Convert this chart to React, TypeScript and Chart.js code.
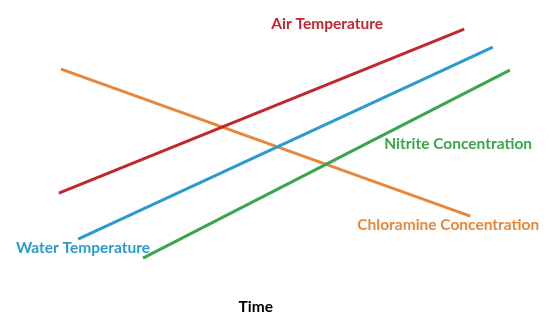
import React, { useEffect, useRef } from "react";
import { Chart, registerables } from "chart.js";

Chart.register(...registerables);

// Time axis (arbitrary units 0-100) and level axis (arbitrary units 0-100)
const seriesNames = [
  "Air Temperature",
  "Water Temperature",
  "Nitrite Concentration",
  "Chloramine Concentration",
];
const seriesColors = ["#C1272D", "#2B9BCF", "#3AA64C", "#E8873A"];

const airTime = [10.7, 84.4];
const airLevel = [40.2, 91.0];
const waterTime = [14.2, 89.6];
const waterLevel = [26.0, 85.4];
const nitriteTime = [26.0, 92.7];
const nitriteLevel = [20.1, 78.3];
const chloramineTime = [11.1, 85.5];
const chloramineLevel = [78.6, 33.1];

// label anchors (in data units)
const labelTime = [59.5, 15.1, 83.3, 81.5];
const labelLevel = [92.6, 23.2, 55.4, 30.3];
const axisTitle = "Time";
const axisTitleTime = 46.5;
const axisTitleLevel = 5.0;

const FONT = "bold 15.5px Lato, 'Open Sans', sans-serif";

export default function App() {
  const ref = useRef<HTMLCanvasElement | null>(null);

  useEffect(() => {
    document.body.style.margin = "0";
    const canvas = ref.current;
    if (!canvas) return;

    const times = [airTime, waterTime, nitriteTime, chloramineTime];
    const levels = [airLevel, waterLevel, nitriteLevel, chloramineLevel];

    const labelPlugin = {
      id: "lineLabels",
      afterDatasetsDraw(chart: any) {
        const ctx = chart.ctx;
        const xs = chart.scales.x;
        const ys = chart.scales.y;
        ctx.save();
        ctx.font = FONT;
        ctx.textAlign = "center";
        ctx.textBaseline = "middle";
        seriesNames.forEach((name, i) => {
          ctx.fillStyle = seriesColors[i];
          ctx.fillText(
            name,
            xs.getPixelForValue(labelTime[i]),
            ys.getPixelForValue(labelLevel[i])
          );
        });
        ctx.fillStyle = "#000000";
        ctx.fillText(
          axisTitle,
          xs.getPixelForValue(axisTitleTime),
          ys.getPixelForValue(axisTitleLevel)
        );
        ctx.restore();
      },
    };

    const chart = new Chart(canvas, {
      type: "line",
      data: {
        datasets: seriesNames.map((name, i) => ({
          label: name,
          data: times[i].map((t, k) => ({ x: t, y: levels[i][k] })),
          borderColor: seriesColors[i],
          borderWidth: 3,
          pointRadius: 0,
          tension: 0,
          borderCapStyle: "butt" as const,
        })),
      },
      options: {
        responsive: false,
        animation: false,
        layout: { padding: 0 },
        plugins: {
          legend: { display: false },
          tooltip: { enabled: false },
          title: { display: false },
        },
        scales: {
          x: { type: "linear", min: 0, max: 100, display: false },
          y: { type: "linear", min: 0, max: 100, display: false },
        },
      },
      plugins: [labelPlugin],
    });
    return () => chart.destroy();
  }, []);

  return (
    <div style={{ position: "absolute", left: 0, top: 0, width: 550, height: 323, background: "#fff" }}>
      <canvas ref={ref} width={550} height={323} />
    </div>
  );
}
